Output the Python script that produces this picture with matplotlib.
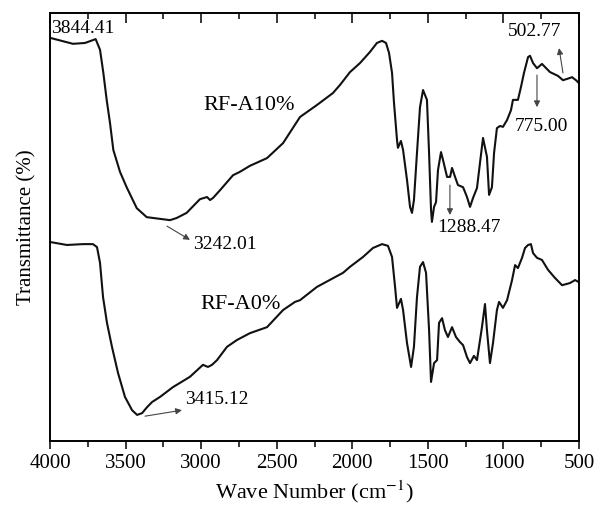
import matplotlib
matplotlib.use("Agg")
import matplotlib.pyplot as plt
from matplotlib.ticker import MultipleLocator

plt.rcParams['font.family'] = ['Liberation Serif', 'DejaVu Serif']
plt.rcParams['mathtext.fontset'] = 'stix'

# Wavenumbers (cm-1) and transmittance (arbitrary units)
wn_a10 = [4000, 3848, 3768, 3698, 3669, 3647, 3625, 3603, 3581, 3537, 3493, 3426,
          3360, 3272, 3206, 3162, 3096, 3008, 2961, 2941, 2921, 2875, 2789, 2743,
          2677, 2564, 2458, 2346, 2234, 2128, 2081, 2015, 1949, 1883, 1837, 1803,
          1777, 1757, 1737, 1724, 1704, 1698, 1678, 1664, 1638, 1618, 1605, 1592,
          1572, 1552, 1532, 1506, 1492, 1479, 1473, 1459, 1446, 1433, 1413, 1400,
          1373, 1353, 1340, 1320, 1301, 1267, 1241, 1221, 1201, 1175, 1155, 1135,
          1109, 1095, 1076, 1062, 1043, 1023, 1003, 976, 950, 937, 904, 884, 864,
          837, 824, 804, 778, 745, 692, 639, 606, 579, 546, 520, 500]
t_a10 = [94.2, 92.8, 93.0, 93.9, 91.4, 86.0, 79.7, 74.3, 68.0, 62.9, 59.3, 54.4,
         52.3, 51.9, 51.6, 52.1, 53.3, 56.5, 57.0, 56.3, 56.8, 58.6, 62.1, 62.9,
         64.3, 66.1, 69.6, 75.7, 78.5, 81.3, 83.2, 86.2, 88.3, 90.9, 93.0, 93.5,
         93.0, 90.7, 86.0, 79.0, 70.3, 68.5, 70.1, 68.0, 61.0, 54.7, 53.3, 56.3,
         67.3, 78.0, 82.0, 79.7, 67.3, 54.0, 51.2, 54.7, 55.8, 63.3, 67.5, 65.7,
         61.7, 61.7, 63.8, 61.7, 59.8, 59.3, 57.0, 54.7, 56.8, 59.1, 65.0, 70.8,
         66.4, 57.5, 59.3, 67.3, 73.1, 73.6, 73.4, 75.0, 77.3, 79.7, 79.7, 82.7, 86.0,
         89.7, 90.0, 88.3, 87.1, 88.1, 86.2, 85.3, 84.3, 84.6, 85.0, 84.3, 83.6]

wn_a0 = [4000, 3888, 3782, 3716, 3689, 3669, 3649, 3623, 3590, 3550, 3504, 3457,
         3424, 3391, 3358, 3325, 3272, 3186, 3074, 2988, 2955, 2928, 2895, 2829,
         2763, 2677, 2564, 2458, 2379, 2346, 2234, 2061, 2015, 1929, 1863, 1803,
         1764, 1737, 1717, 1704, 1678, 1664, 1638, 1611, 1592, 1572, 1552, 1532,
         1512, 1492, 1479, 1459, 1439, 1426, 1406, 1387, 1367, 1340, 1314, 1287,
         1267, 1241, 1221, 1195, 1175, 1142, 1122, 1109, 1089, 1069, 1043, 1029,
         1003, 976, 943, 923, 904, 877, 857, 837, 818, 804, 778, 745, 705, 659,
         612, 560, 526, 500]
t_a0 = [46.5, 45.8, 46.0, 46.0, 45.3, 41.6, 33.6, 27.6, 22.0, 15.9, 10.3, 7.2,
        6.1, 6.5, 7.9, 9.1, 10.3, 12.6, 15.0, 17.8, 17.3, 17.8, 18.9, 22.0,
        23.6, 25.2, 26.6, 30.6, 32.5, 32.9, 36.0, 39.3, 40.7, 43.0, 45.1, 46.0,
        45.6, 43.0, 36.0, 31.1, 33.2, 30.6, 22.9, 17.3, 22.0, 33.6, 40.7, 41.8,
        39.3, 25.9, 13.8, 18.2, 18.9, 27.6, 28.7, 25.9, 24.3, 26.6, 24.3, 23.1,
        22.4, 19.6, 18.2, 19.9, 18.9, 26.6, 32.0, 25.9, 18.2, 22.9, 30.6, 32.5,
        31.1, 32.9, 37.6, 41.1, 40.4, 42.8, 45.1, 45.8, 46.0, 43.9, 42.8, 42.3, 40.0, 38.1,
        36.4, 36.9, 37.6, 37.1]

fig = plt.figure(figsize=(5.94, 5.09), dpi=100)
ax = fig.add_axes([50 / 594, 68 / 509, 529 / 594, 428 / 509])

ax.plot(wn_a10, t_a10, color='#111111', lw=1.5, solid_joinstyle='round')
ax.plot(wn_a0, t_a0, color='#111111', lw=1.5, solid_joinstyle='round')

ax.set_xlim(4000, 500)
ax.set_ylim(0, 100)
ax.set_yticks([])
ax.xaxis.set_major_locator(MultipleLocator(500))
ax.xaxis.set_minor_locator(MultipleLocator(250))
ax.tick_params(axis='x', which='both', direction='out', labelsize=15)
ax.tick_params(axis='x', which='major', length=6, width=1.1)
ax.tick_params(axis='x', which='minor', length=4, width=1.1)

# inward ticks along the top edge
top = ax.twiny()
top.set_xlim(ax.get_xlim())
top.xaxis.set_major_locator(MultipleLocator(500))
top.xaxis.set_minor_locator(MultipleLocator(250))
top.tick_params(axis='x', which='both', direction='in', labeltop=False)
top.tick_params(axis='x', which='major', length=7, width=1.1)
top.tick_params(axis='x', which='minor', length=4, width=1.1)

for sp in list(ax.spines.values()) + list(top.spines.values()):
    sp.set_linewidth(1.2)

ax.set_xlabel('Wave Number (cm$^{-1}$)', fontsize=16, labelpad=4)
ax.set_ylabel('Transmittance (%)', fontsize=15, labelpad=10)

# labels and peak annotations
ax.text(2988, 78.5, 'RF-A10%', fontsize=16, ha='left', va='center')
ax.text(3008, 31.8, 'RF-A0%', fontsize=16, ha='left', va='center')
ax.text(3993, 96.3, '3844.41', fontsize=14, ha='left', va='center')

arrow = dict(arrowstyle='-|>', color='#444444', lw=0.8, mutation_scale=9,
             shrinkA=0, shrinkB=0)
notes = [('3242.01', (3054, 45.8), (3226, 50.2), (3074, 47.0)),
         ('3415.12', (3107, 9.6), (3371, 5.8), (3127, 7.2)),
         ('1288.47', (1440, 50.0), (1354, 59.8), (1354, 52.8)),
         ('775.00', (924, 73.4), (778, 85.5), (778, 78.0)),
         ('502.77', (970, 95.6), (606, 86.0), (632, 91.8))]
for txt, pos, start, end in notes:
    ax.text(pos[0], pos[1], txt, fontsize=14, ha='left', va='center')
    ax.annotate('', xy=end, xytext=start, arrowprops=arrow)

fig.savefig('out.png', dpi=100)
